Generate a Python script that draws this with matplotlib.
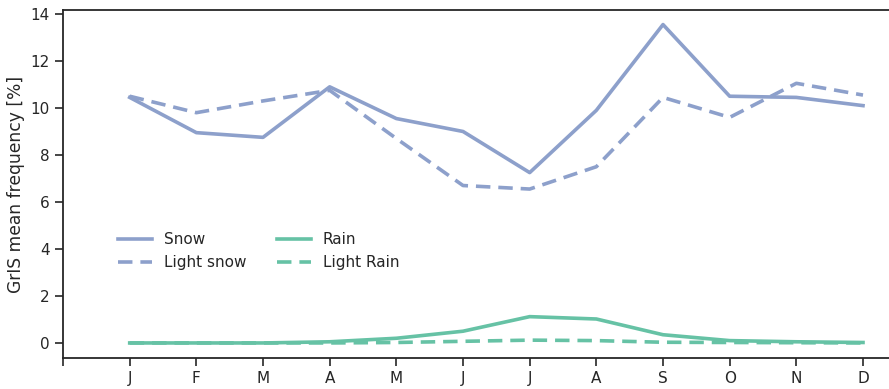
import numpy as np
import matplotlib
matplotlib.use('Agg')
import matplotlib.pyplot as plt

months = ['J', 'F', 'M', 'A', 'M', 'J', 'J', 'A', 'S', 'O', 'N', 'D']
snow = [10.45, 8.95, 8.75, 10.9, 9.55, 9.0, 7.25, 9.9, 13.55, 10.5, 10.45, 10.1]
light_snow = [10.5, 9.8, 10.3, 10.75, 8.7, 6.7, 6.55, 7.5, 10.45, 9.6, 11.05, 10.55]
rain = [0.0, 0.0, 0.0, 0.05, 0.2, 0.5, 1.12, 1.02, 0.35, 0.1, 0.05, 0.02]
light_rain = [0.0, 0.0, 0.0, 0.0, 0.02, 0.07, 0.12, 0.1, 0.03, 0.02, 0.01, 0.0]

blue = '#8da0cb'
green = '#66c2a5'
dark = '#262626'

plt.rcParams['text.color'] = dark
plt.rcParams['axes.labelcolor'] = dark
plt.rcParams['xtick.color'] = dark
plt.rcParams['ytick.color'] = dark
plt.rcParams['axes.edgecolor'] = dark

fig = plt.figure(figsize=(8.89, 3.89), dpi=100)
ax = fig.add_axes([0.0709, 0.0797, 0.9291, 0.8946])

x = np.arange(len(months))
ax.plot(x, snow, color=blue, lw=2.6, label='Snow')
ax.plot(x, light_snow, color=blue, lw=2.6, ls=(0, (4, 2.2)), label='Light snow')
ax.plot(x, rain, color=green, lw=2.6, label='Rain')
ax.plot(x, light_rain, color=green, lw=2.6, ls=(0, (4, 2.2)), label='Light Rain')

ax.set_xlim(-1, 11.39)
ax.set_ylim(-0.64, 14.17)
ax.set_xticks(np.arange(-1, 12))
ax.set_xticklabels([''] + months)
ax.set_yticks(np.arange(0, 15, 2))
ax.tick_params(labelsize=11, length=6, width=1.2)
ax.set_ylabel('GrIS mean frequency [%]', fontsize=12.3)
for s in ['left', 'bottom', 'top']:
    ax.spines[s].set_linewidth(1.3)
ax.spines['right'].set_visible(False)

ax.legend(ncol=2, frameon=False, fontsize=11, loc='center left',
          bbox_to_anchor=(0.05, 0.307), handlelength=2.2, columnspacing=2.0,
          labelspacing=0.5)

fig.savefig('out.png', dpi=100)
